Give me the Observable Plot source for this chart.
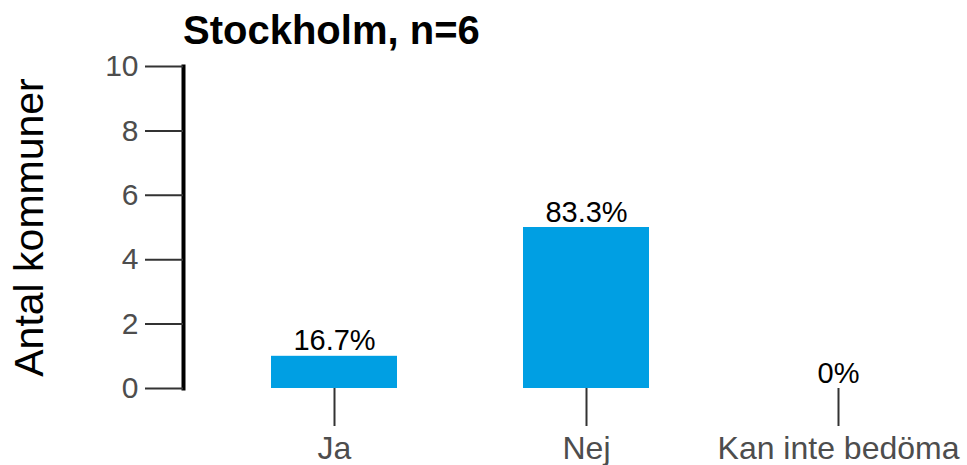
<!DOCTYPE html>
<html><head><meta charset="utf-8">
<script src="https://cdn.jsdelivr.net/npm/d3@7"></script>
<script src="https://cdn.jsdelivr.net/npm/@observablehq/plot@0.6"></script>
<style>
body{margin:0;background:#fff;font-family:"Liberation Sans",Arial,sans-serif;}
#wrap{position:relative;width:967px;height:465px;}
#chart{position:absolute;left:0;top:0;}
#title{position:absolute;left:183px;top:10px;font-size:40px;font-weight:bold;line-height:40px;color:#000;margin:0;z-index:2;white-space:nowrap;}
</style></head>
<body><div id="wrap"><div id="chart"></div><div id="title"></div></div>
<script>
const title = "Stockholm, n=6";
const yLabel = "Antal kommuner";
const categories = ["Ja", "Nej", "Kan inte bedöma"];
const counts = [1, 5, 0];
const percentLabels = ["16.7%", "83.3%", "0%"];
const yTicks = [0, 2, 4, 6, 8, 10];

const data = categories.map((c, i) => ({category: c, count: counts[i], label: percentLabels[i]}));
document.getElementById("title").textContent = title;

const font = "'Liberation Sans', Arial, sans-serif";
const chart = Plot.plot({
  width: 967,
  height: 465,
  marginLeft: 183,
  marginTop: 66,
  marginBottom: 77,
  marginRight: 0,
  style: {fontFamily: font, background: "transparent", overflow: "visible"},
  x: {domain: categories, range: [145, 1027], padding: 0.5},
  y: {domain: [0, 10]},
  marks: [
    Plot.barY(data, {x: "category", y: "count", fill: "#009FE3"}),
    Plot.text(data, {x: "category", y: "count", text: "label", lineAnchor: "bottom", dy: -6, fontSize: 29, fill: "#000"}),
    Plot.frame({anchor: "left", stroke: "#000", strokeWidth: 4}),
    Plot.axisY({ticks: yTicks, tickSize: 38, tickPadding: 7, fontSize: 30, stroke: "#333", strokeWidth: 2, fill: "#4d4d4d", label: null}),
    Plot.axisY({ticks: [], tickSize: 0, label: yLabel, labelArrow: "none", labelAnchor: "center", labelOffset: 170, fontSize: 41, fill: "#000"}),
    Plot.axisX({tickSize: 38, tickPadding: 10, fontSize: 32, stroke: "#333", strokeWidth: 2, fill: "#4d4d4d", label: null})
  ]
});
document.getElementById("chart").appendChild(chart);
</script>
</body></html>
